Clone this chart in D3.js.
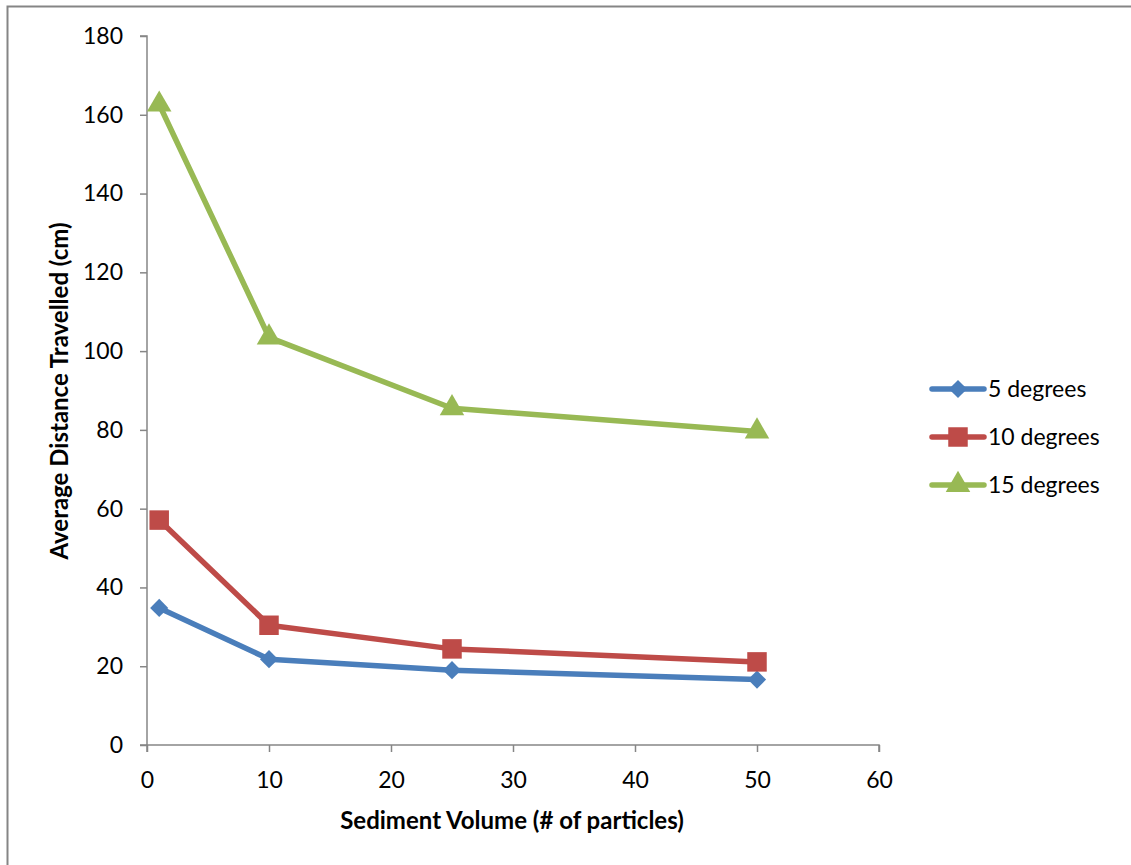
<!DOCTYPE html>
<html>
<head>
<meta charset="utf-8">
<script src="https://cdn.jsdelivr.net/npm/d3@7"></script>
<style>
body { margin: 0; background: #fff; }
text { font-family: Lato, "Open Sans", sans-serif; fill: #000; }
</style>
</head>
<body>
<div id="chart"></div>
<script>
var w = 1131;
var h = 865;

// data
var volumes = [1, 10, 25, 50];
var seriesNames = ["5 degrees", "10 degrees", "15 degrees"];
var deg5 = [34.8, 21.8, 19.0, 16.6];
var deg10 = [57.1, 30.4, 24.4, 21.1];
var deg15 = [162.6, 103.5, 85.5, 79.6];
var xTicks = [0, 10, 20, 30, 40, 50, 60];
var yTicks = [0, 20, 40, 60, 80, 100, 120, 140, 160, 180];

var colors = ["#4A7EBB", "#BE4B48", "#98B954"];
var symbols = [d3.symbolDiamond2, d3.symbolSquare, d3.symbolTriangle];
var sizes = [210, 380, 260];
var allSeries = [deg5, deg10, deg15];

var x = d3.scaleLinear().domain([0, 60]).range([147, 879]);
var y = d3.scaleLinear().domain([0, 180]).range([745, 36]);

var svg = d3.select("#chart")
            .append("svg")
            .attr("width", w)
            .attr("height", h);

// chart frame (top and left edges visible)
svg.append("path")
   .attr("d", "M7.5," + h + "V6.5H" + w)
   .attr("fill", "none")
   .attr("stroke", "#858585")
   .attr("stroke-width", 2);

var axisColor = "#868686";

// x axis
var xAxis = svg.append("g")
               .attr("transform", "translate(0," + y(0) + ")")
               .call(d3.axisBottom(x).tickValues(xTicks).tickSize(7).tickPadding(20));
// y axis
var yAxis = svg.append("g")
               .attr("transform", "translate(" + x(0) + ",0)")
               .call(d3.axisLeft(y).tickValues(yTicks).tickSize(7).tickPadding(17));

[xAxis, yAxis].forEach(function(a) {
  a.select(".domain").attr("stroke", axisColor).attr("stroke-width", 1.5);
  a.selectAll(".tick line").attr("stroke", axisColor).attr("stroke-width", 1.5);
  a.selectAll(".tick text").style("font-size", "23px").attr("fill", "#000");
});
// remove tick stubs that stick outside the domain ends
xAxis.select(".domain").attr("d", "M" + x(0) + ",7V0H" + x(60) + "V7");
yAxis.select(".domain").attr("d", "M-7," + y(180) + "H0V" + y(0) + "H-7");

var line = d3.line()
             .x(function(d, i) { return x(volumes[i]); })
             .y(function(d) { return y(d); });

allSeries.forEach(function(vals, s) {
  svg.append("path")
     .datum(vals)
     .attr("d", line)
     .attr("fill", "none")
     .attr("stroke", colors[s])
     .attr("stroke-width", 5.5)
     .attr("stroke-linejoin", "round");
  svg.selectAll(".m" + s)
     .data(vals)
     .enter()
     .append("path")
     .attr("class", "m" + s)
     .attr("d", d3.symbol().type(symbols[s]).size(sizes[s]))
     .attr("transform", function(d, i) { return "translate(" + x(volumes[i]) + "," + y(d) + ")"; })
     .attr("fill", colors[s]);
});

// axis titles
svg.append("text")
   .attr("x", 512)
   .attr("y", 829)
   .style("text-anchor", "middle")
   .style("font-size", "24px")
   .style("font-weight", "bold")
   .text("Sediment Volume (# of particles)");

svg.append("text")
   .attr("transform", "translate(68,391) rotate(-90)")
   .style("text-anchor", "middle")
   .style("font-size", "24px")
   .style("font-weight", "bold")
   .text("Average Distance Travelled (cm)");

// legend
var legend = svg.selectAll(".legend")
                .data(seriesNames)
                .enter()
                .append("g")
                .attr("class", "legend")
                .attr("transform", function(d, i) { return "translate(930," + (389 + i * 48) + ")"; });

legend.append("line")
      .attr("x1", 2).attr("x2", 54)
      .attr("stroke", function(d, i) { return colors[i]; })
      .attr("stroke-width", 5.5)
      .attr("stroke-linecap", "round");
legend.append("path")
      .attr("d", function(d, i) { return d3.symbol().type(symbols[i]).size(sizes[i])(); })
      .attr("transform", "translate(28,0)")
      .attr("fill", function(d, i) { return colors[i]; });
legend.append("text")
      .attr("x", 58)
      .attr("dy", "0.35em")
      .style("font-size", "23px")
      .text(function(d) { return d; });
</script>
</body>
</html>
